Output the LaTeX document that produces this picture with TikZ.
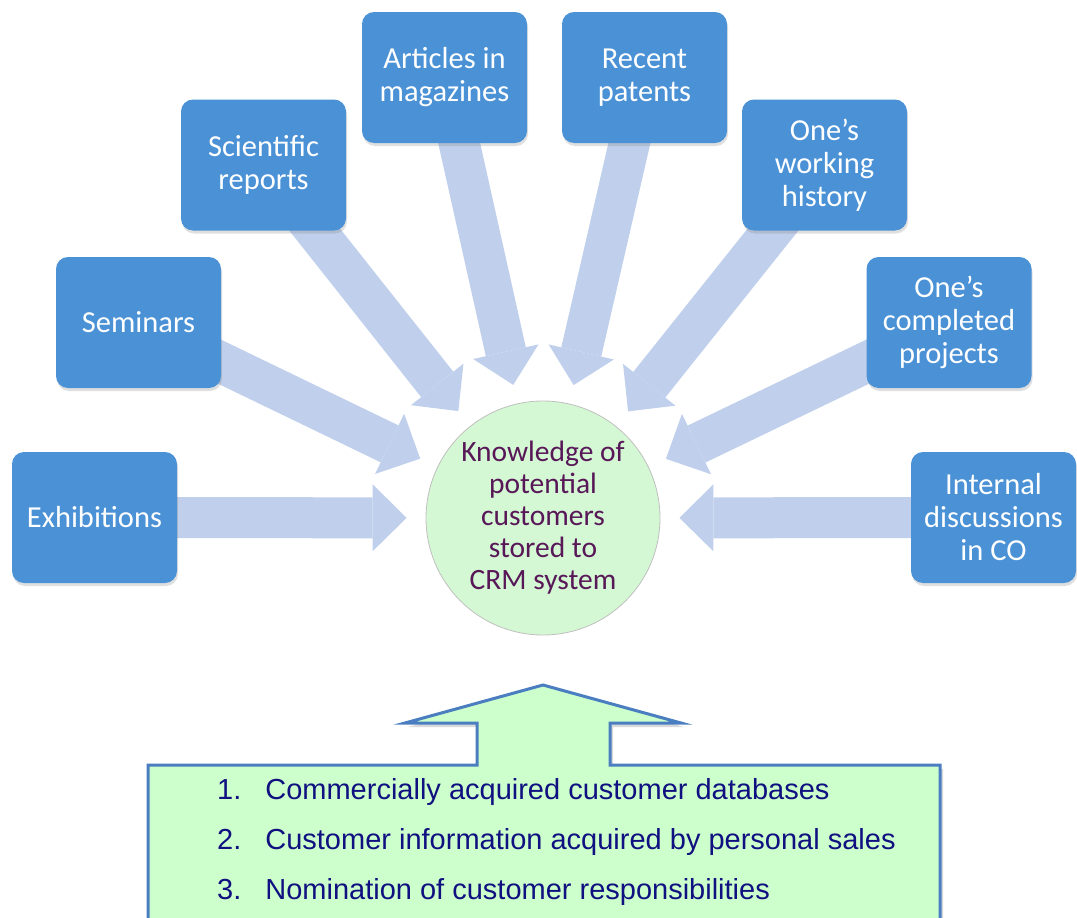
\documentclass[tikz,border=0pt]{standalone}
\usepackage{fontspec}
\setmainfont{Carlito}
\newfontfamily\listfont{Liberation Sans}
\usetikzlibrary{arrows.meta, backgrounds, shadows}
\definecolor{boxblue}{RGB}{74,145,214}
\definecolor{feedblue}{RGB}{192,208,236}
\definecolor{hubgreen}{RGB}{212,248,212}
\definecolor{hubtext}{RGB}{88,24,88}
\definecolor{listgreen}{RGB}{204,255,204}
\definecolor{listedge}{RGB}{74,126,192}
\definecolor{listtext}{RGB}{16,16,128}
\tikzset{
    source/.style={
        fill=boxblue, rounded corners=12pt,
        minimum width=165pt,
        minimum height=131pt,
        align=center, text=white,
        font=\fontsize{30.5}{33}\selectfont,
        drop shadow={opacity=0.25, shadow xshift=1pt, shadow yshift=-3pt}
    },
    hub/.style={
        circle, draw=black!25, line width=0.8pt,
        fill=hubgreen, minimum size=234pt, inner sep=0pt,
        align=center, text=hubtext,
        font=\fontsize{29.5}{32}\selectfont
    },
    feed/.style={
        line width=41pt, draw=feedblue,
        -{Triangle[width=67pt, length=34pt, line width=0pt]},
        shorten >=19pt
    },
    listbox/.style={
        draw=listedge, line width=3pt, fill=listgreen,
        drop shadow={opacity=0.3, shadow xshift=3pt, shadow yshift=-4pt}
    }
}

\begin{document}
\begin{tikzpicture}[x=1pt, y=-1pt]

    \useasboundingbox (0,0) rectangle (1077,918);
    \clip (0,0) rectangle (1077,918);

    % Centre
    \node[hub] (crm) at (543,518) {Knowledge of\\potential\\customers\\stored to\\CRM system};

    % Sources
    \node[source] (exhib) at (94.5,517.5) {Exhibitions};
    \node[source] (semin) at (138.5,322.5) {Seminars};
    \node[source] (scirep) at (263.5,165) {Scientific\\reports};
    \node[source] (artic) at (444.5,77.5) {Articles in\\magazines};
    \node[source] (patent) at (644.5,77.5) {Recent\\patents};
    \node[source] (workhist) at (824.5,165) {One’s\\working\\history};
    \node[source] (projects) at (949,322.5) {One’s\\completed\\projects};
    \node[source] (internal) at (993.5,517.5) {Internal\\discussions\\in CO};

    % Arrows
    \begin{scope}[on background layer]
        \foreach \src in {exhib, semin, scirep, artic, patent, workhist, projects, internal}
            \draw[feed] (\src.center) -- (crm);
    \end{scope}

    % Bottom list with up arrow
    \draw[listbox] (148,765) -- (477,765) -- (477,723) -- (405,723) -- (543,685)
        -- (681,723) -- (610,723) -- (610,765) -- (940,765) -- (940,940) -- (148,940) -- cycle;
    \node[anchor=west, inner sep=0pt, text=listtext, font=\listfont\fontsize{29}{50}\selectfont] (sources) at (217,839)
        {\begin{tabular}{@{}l@{\hspace{24pt}}l@{}}
            1. & Commercially acquired customer databases\\
            2. & Customer information acquired by personal sales\\
            3. & Nomination of customer responsibilities
        \end{tabular}};

\end{tikzpicture}
\end{document}
